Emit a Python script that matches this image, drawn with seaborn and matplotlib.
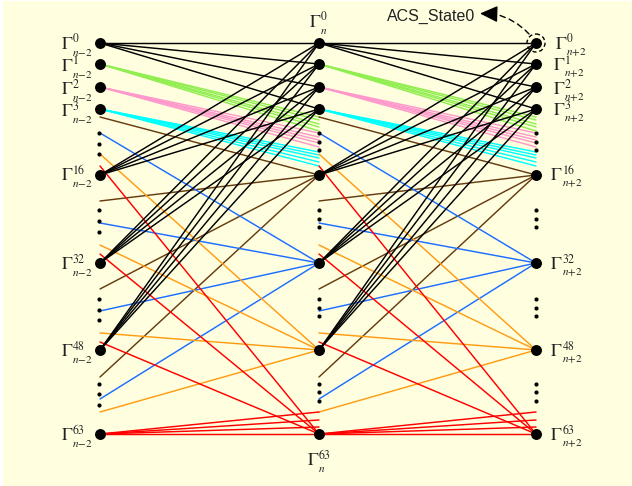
# plot.py
# trellis diagram of the radix-4 ACS butterflies, two stages from n-2 to n+2

import pandas as pd
import seaborn as sns
import matplotlib
import matplotlib.pyplot as plt
from matplotlib.patches import Circle
matplotlib.use('Agg')

# stage columns and states
stage_x = [100, 319, 536]
node_y = [43, 64, 87, 109, 175, 263, 350, 434]
states = [0, 1, 2, 3, 16, 32, 48, 63]

# ellipsis dots between the states
dots_left = [133, 144, 154, 210, 221, 232, 299, 310, 320, 384, 394, 405]
dots_other = [133, 142, 150, 210, 219, 227, 299, 308, 316, 384, 392, 401]

# black: every source goes to the four top states
black_from = [43, 175, 263, 350]
black_to = [43, 64, 87, 109]

# fans that leave one state
green_from = 64
green_to = [117, 120, 124, 127, 131]
pink_from = 87
pink_to = [133, 137, 140, 143, 147]
cyan_from = 109
cyan_to = [152, 155, 158, 162, 166]
red_fan_from = 434
red_fan_to = [412, 420, 427, 434]

# lines that come together in one state
brown_from = [117, 201, 289, 377]
brown_to = 175
blue_from = [133, 223, 311, 399]
blue_to = 263
orange_from = [154, 245, 333, 412]
orange_to = 350
red_from = [166, 254, 342]
red_to = 434

palette = {
    "green": "#90ee50", "pink": "#ff99cc", "cyan": "#00ffff", "brown": "#663c10",
    "blue": "#1e6eff", "orange": "#ff9c14", "red": "#ff0000", "black": "#000000",
}

pairs = []
for src in black_from:
    pairs += [("black", src, dst) for dst in black_to]
pairs += [("green", green_from, dst) for dst in green_to]
pairs += [("pink", pink_from, dst) for dst in pink_to]
pairs += [("cyan", cyan_from, dst) for dst in cyan_to]
pairs += [("red", red_fan_from, dst) for dst in red_fan_to]
pairs += [("brown", src, brown_to) for src in brown_from]
pairs += [("blue", src, blue_to) for src in blue_from]
pairs += [("orange", src, orange_to) for src in orange_from]
pairs += [("red", src, red_to) for src in red_from]

# same butterfly for both stage pairs
rows = []
edge = 0
for i in range(2):
    for colour, src, dst in pairs:
        rows.append({"edge": edge, "colour": colour, "x": stage_x[i], "y": src})
        rows.append({"edge": edge, "colour": colour, "x": stage_x[i + 1], "y": dst})
        edge += 1
df_edges = pd.DataFrame(rows)

df_nodes = pd.DataFrame([{"x": x, "y": y} for x in stage_x for y in node_y])
df_dots = pd.DataFrame(
    [{"x": stage_x[0] - 1, "y": y} for y in dots_left]
    + [{"x": x, "y": y} for x in stage_x[1:] for y in dots_other]
)

sns.set_theme(style="white")
plt.rcParams['mathtext.fontset'] = 'stix'
plt.rcParams['font.family'] = ['Liberation Sans', 'DejaVu Sans']

fig = plt.figure(figsize=(6.32, 4.86), dpi=100, facecolor="white")
ax = fig.add_axes([3 / 632, 0, 629 / 632, 485 / 486], facecolor="#ffffe0")

sns.lineplot(
    data=df_edges, x="x", y="y", units="edge", hue="colour", palette=palette,
    hue_order=list(palette), estimator=None, sort=False, legend=False,
    linewidth=1.05, ax=ax,
)
sns.scatterplot(data=df_dots, x="x", y="y", color="black", s=9, linewidth=0, legend=False, ax=ax, zorder=3)
sns.scatterplot(data=df_nodes, x="x", y="y", color="black", s=62, linewidth=0, legend=False, ax=ax, zorder=3)

ax.set_xlim(3, 632)
ax.set_ylim(486, 1)
ax.set_xticks([])
ax.set_yticks([])
ax.set_xlabel("")
ax.set_ylabel("")
sns.despine(ax=ax, left=True, bottom=True)


def state_label(x, y, sup, sub):
    """Gamma with its own small super- and subscript, mathtext's are too wide here."""
    style = dict(ha="left", va="baseline", color="#222222")
    ax.text(x, y, r"$\Gamma$", fontsize=13, **style)
    ax.text(x + 11.5, y - 6.5, rf"${sup}$", fontsize=8.5, **style)
    ax.text(x + 11.5, y + 6.5, rf"${sub}$", fontsize=8, **style)


# state labels
left_base = [49, 71, 94, 116, 180, 269, 356, 440]
right_base = [49, 70, 94, 115, 180, 269, 356, 440]
right_x = [555, 553, 553, 553, 550, 550, 550, 550]
for state, by, rb, rx in zip(states, left_base, right_base, right_x):
    state_label(61, by, state, "n{-}2")
    state_label(rx, rb, state, "n{+}2")
state_label(309, 27, 0, "n")
state_label(307, 465, 63, "n")

# ACS callout
ax.text(387, 16, "ACS_State0", fontsize=11.5, ha="left", va="center", color="#222222")
ax.add_patch(Circle((stage_x[2], node_y[0]), 9, fill=False, edgecolor="black", linewidth=1.0, linestyle=(0, (3, 2)), zorder=4))
ax.annotate(
    "", xy=(495, 14), xytext=(529, 34),
    arrowprops=dict(arrowstyle="-", color="black", linewidth=1.0, linestyle=(0, (4, 3)),
                    connectionstyle="arc3,rad=0.15", shrinkA=0, shrinkB=0),
)
ax.annotate(
    "", xy=(480, 13.5), xytext=(495, 14),
    arrowprops=dict(arrowstyle="-|>,head_length=0.9,head_width=0.42", color="black",
                    linewidth=1.0, shrinkA=0, shrinkB=0, mutation_scale=12),
)

plt.savefig("out.png", dpi=100)
plt.close()
